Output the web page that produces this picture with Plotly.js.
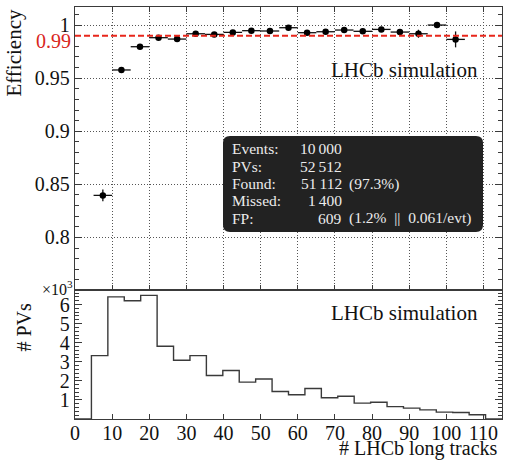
<!DOCTYPE html>
<html>
<head>
<meta charset="utf-8">
<script src="https://cdn.plot.ly/plotly-3.0.1.min.js"></script>
<style>html,body{margin:0;padding:0;background:#fff;}#chart{width:505px;height:460px;}</style>
</head>
<body>
<div id="chart"></div>
<script>
// ---- data ----
const effCenters = [7.5, 12.5, 17.5, 22.5, 27.5, 32.5, 37.5, 42.5, 47.5, 52.5, 57.5, 62.5, 67.5, 72.5, 77.5, 82.5, 87.5, 92.5, 97.5, 102.5];
const effValues  = [0.8396, 0.9577, 0.9796, 0.9881, 0.9868, 0.9918, 0.9912, 0.9931, 0.9947, 0.9944, 0.9975, 0.9928, 0.9937, 0.9953, 0.9941, 0.9959, 0.9934, 0.9918, 1.0000, 0.9865];
const effErrors  = [0.0056, 0.0026, 0.0017, 0.0013, 0.0015, 0.0012, 0.0013, 0.0013, 0.0012, 0.0013, 0.0010, 0.0017, 0.0017, 0.0017, 0.0020, 0.0020, 0.0025, 0.0038, 0.0022, 0.0075];
const effHalfWidth = 2.5;
const histLow = 0, histHigh = 115;
const histCounts = [0, 3320, 6400, 6200, 6480, 3810, 3080, 3320, 2280, 2540, 1930, 2100, 1440, 1270, 1600, 1110, 1190, 830, 880, 650, 570, 480, 360, 340, 220, 0];
const refLevel = 0.99;
const statLabels = ["Events:", "PVs:", "Found:", "Missed:", "FP:"];
const statNumbers = ["10\u2009000", "52\u2009512", "51\u2009112", "1\u2009400", "609"];
const statExtras = ["", "", "(97.3%)", "", "(1.2%  ||  0.061/evt)"];
const pvTickVals = [1000, 2000, 3000, 4000, 5000, 6000];
const pvTickText = ["1", "2", "3", "4", "5", "6"];

// ---- layout helpers (pixel -> paper) ----
const W = 505, H = 460, ML = 75, MR = 3, MT = 7, MB = 41;
const PW = W - ML - MR, PH = H - MT - MB;
const px = x => (x - ML) / PW;
const py = y => (H - MB - y) / PH;
const splitFrac = (H - MB - 290) / PH;

const FONT = "Liberation Serif";
const frame = '#3a3a3a';

// histogram step outline
const nb = histCounts.length;
const bw = (histHigh - histLow) / nb;
const hx = [], hy = [];
for (let i = 0; i <= nb; i++) { hx.push(histLow + i * bw); hy.push(i < nb ? histCounts[i] : histCounts[nb - 1]); }

const traces = [
  {
    x: hx, y: hy, xaxis: 'x', yaxis: 'y', type: 'scatter', mode: 'lines',
    line: {shape: 'hv', color: '#3a3a3a', width: 1.4}, hoverinfo: 'skip', showlegend: false
  },
  {
    x: effCenters, y: effValues, xaxis: 'x2', yaxis: 'y2', type: 'scatter', mode: 'markers',
    marker: {color: '#000', size: 6.5},
    error_x: {type: 'constant', value: effHalfWidth, color: '#111', thickness: 1.3, width: 0},
    error_y: {type: 'data', array: effErrors, color: '#111', thickness: 1.3, width: 0},
    showlegend: false
  }
];

// rounded box path in paper coords
function roundRect(x0, y0, x1, y1, r) {
  const X = v => px(v).toFixed(5), Y = v => py(v).toFixed(5);
  return `M${X(x0 + r)},${Y(y0)} L${X(x1 - r)},${Y(y0)} Q${X(x1)},${Y(y0)} ${X(x1)},${Y(y0 + r)} ` +
         `L${X(x1)},${Y(y1 - r)} Q${X(x1)},${Y(y1)} ${X(x1 - r)},${Y(y1)} L${X(x0 + r)},${Y(y1)} ` +
         `Q${X(x0)},${Y(y1)} ${X(x0)},${Y(y1 - r)} L${X(x0)},${Y(y0 + r)} Q${X(x0)},${Y(y0)} ${X(x0 + r)},${Y(y0)} Z`;
}

const annotations = [];
const ann = (o) => annotations.push(Object.assign({showarrow: false, borderpad: 0, borderwidth: 0, xref: 'paper', yref: 'paper'}, o));

ann({text: 'LHCb simulation', x: px(478), y: py(70), xanchor: 'right', yanchor: 'middle', font: {family: FONT, size: 21, color: '#111'}});
ann({text: 'LHCb simulation', x: px(478), y: py(313), xanchor: 'right', yanchor: 'middle', font: {family: FONT, size: 21, color: '#111'}});
ann({text: '# LHCb long tracks', x: px(498), y: py(448.5), xanchor: 'right', yanchor: 'middle', font: {family: FONT, size: 20, color: '#111'}});
ann({text: 'Efficiency', x: px(13.6), y: py(9), xanchor: 'center', yanchor: 'top', textangle: -90, font: {family: FONT, size: 21, color: '#111'}});
ann({text: '# PVs', x: px(23), y: py(327.5), xanchor: 'center', yanchor: 'middle', textangle: -90, font: {family: FONT, size: 20, color: '#111'}});
ann({text: '×10<sup>3</sup>', x: px(73), y: py(288), xanchor: 'right', yanchor: 'middle', font: {family: FONT, size: 16, color: '#111'}});
ann({text: '0.99', x: px(71), yref: 'y2', y: refLevel, yshift: -5, xanchor: 'right', yanchor: 'middle', font: {family: FONT, size: 20, color: '#d9261c'}});

const rowY = [149, 166.2, 183.6, 200.8, 218];
for (let i = 0; i < statLabels.length; i++) {
  const f = {family: FONT, size: 15.5, color: '#ececec'};
  ann({text: statLabels[i], x: px(232), y: py(rowY[i]), xanchor: 'left', yanchor: 'middle', font: f});
  ann({text: statNumbers[i], x: px(342), y: py(rowY[i]), xanchor: 'right', yanchor: 'middle', font: f});
  if (statExtras[i]) ann({text: statExtras[i], x: px(349), y: py(rowY[i]), xanchor: 'left', yanchor: 'middle', font: f});
}

const tickfont = {family: FONT, size: 20, color: '#111'};
const gridDash = '1px,2px';
const layout = {
  width: W, height: H,
  margin: {l: ML, r: MR, t: MT, b: MB, pad: 0},
  paper_bgcolor: '#fff', plot_bgcolor: '#fff',
  showlegend: false,
  font: {family: FONT},
  xaxis: {
    domain: [0, 1], anchor: 'y', range: [histLow, histHigh], tickmode: 'linear', tick0: 0, dtick: 10,
    ticks: 'inside', ticklen: 5, tickwidth: 1, tickcolor: frame, showline: true, linecolor: frame, linewidth: 1.2,
    mirror: true, showgrid: false, zeroline: false, tickfont: tickfont, ticklabelstandoff: -4
  },
  yaxis: {
    domain: [0, splitFrac], anchor: 'x', range: [0, 6760], tickmode: 'array', tickvals: pvTickVals, ticktext: pvTickText,
    ticks: 'inside', ticklen: 7, tickwidth: 1, tickcolor: frame,
    minor: {tickmode: 'linear', tick0: 0, dtick: 200, ticks: 'inside', ticklen: 4, tickcolor: frame, showgrid: false},
    showline: true, linecolor: frame, linewidth: 1.2, mirror: 'ticks', showgrid: false, zeroline: false, tickfont: tickfont
  },
  xaxis2: {
    domain: [0, 1], anchor: 'y2', matches: 'x', range: [histLow, histHigh], tickmode: 'linear', tick0: 0, dtick: 10,
    showticklabels: false, ticks: 'inside', ticklen: 5, tickwidth: 1, tickcolor: frame,
    showline: true, linecolor: frame, linewidth: 1.2, mirror: 'ticks',
    showgrid: true, gridcolor: '#555', gridwidth: 1, griddash: gridDash, zeroline: false
  },
  yaxis2: {
    domain: [splitFrac, 1], anchor: 'x2', range: [0.7505, 1.017], tickmode: 'linear', tick0: 0, dtick: 0.05,
    ticks: 'inside', ticklen: 7, tickwidth: 1, tickcolor: frame,
    minor: {tickmode: 'linear', tick0: 0, dtick: 0.01, ticks: 'inside', ticklen: 4, tickcolor: frame, showgrid: false},
    showline: true, linecolor: frame, linewidth: 1.2, mirror: 'ticks',
    showgrid: true, gridcolor: '#555', gridwidth: 1, griddash: gridDash, zeroline: false, tickfont: tickfont
  },
  shapes: [
    {type: 'line', xref: 'paper', yref: 'y2', x0: 0, x1: 1, y0: refLevel, y1: refLevel,
     line: {color: '#e8261b', width: 2, dash: '6px,3px'}, layer: 'above'},
    {type: 'path', xref: 'paper', yref: 'paper', path: roundRect(223, 136, 483, 232, 7),
     fillcolor: '#222222', line: {width: 0}, layer: 'above'}
  ],
  annotations: annotations
};

Plotly.newPlot('chart', traces, layout, {displayModeBar: false, staticPlot: true});
</script>
</body>
</html>
